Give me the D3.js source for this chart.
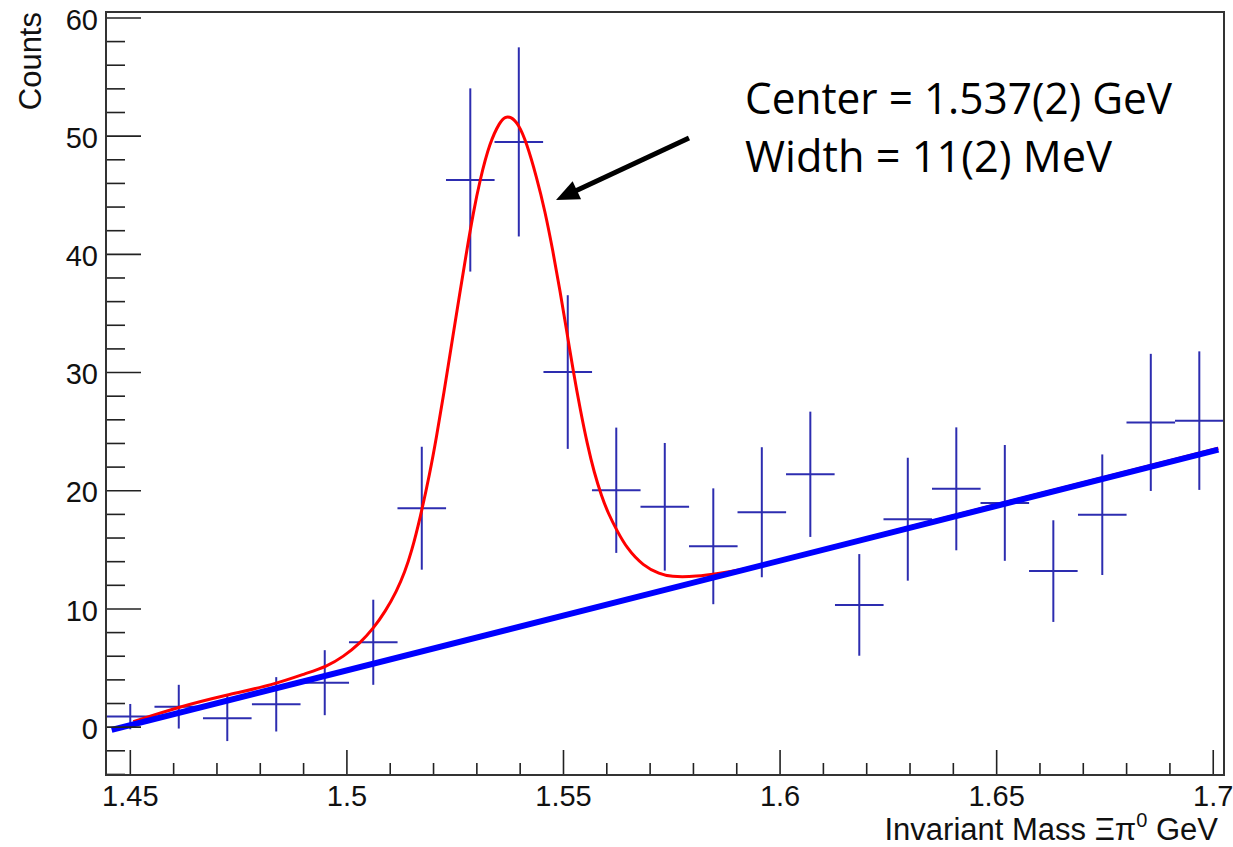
<!DOCTYPE html>
<html lang="en">

<head>
    <meta charset="UTF-8">
    <title>Invariant Mass Xi pi0 - fit</title>
    <script src="https://d3js.org/d3.v7.min.js"></script>
    <style>
        body { margin: 0; background: #fff; }
        svg { display: block; }
        .tick text { font-family: "Liberation Sans", Arial, sans-serif; fill: #111; }
        .tick line { stroke: #222; stroke-width: 1.6; }
    </style>
</head>

<body>
    <div id="chart"></div>

    <script>
        // histogram bins: centres (GeV), counts and errors
        const binCenters = [1.4501, 1.4613, 1.4725, 1.4838, 1.4950, 1.5062, 1.5174, 1.5286, 1.5398, 1.5511, 1.5623, 1.5735,
            1.5847, 1.5959, 1.6071, 1.6184, 1.6296, 1.6408, 1.6520, 1.6632, 1.6745, 1.6857, 1.6969];
        const counts = [0.85, 1.69, 0.71, 1.89, 3.72, 7.14, 18.48, 46.25, 49.47, 30.0, 20.0, 18.6,
            15.26, 18.14, 21.35, 10.3, 17.55, 20.12, 18.93, 13.16, 17.93, 25.74, 25.89];
        const errors = [1.07, 1.85, 1.93, 2.3, 2.75, 3.6, 5.2, 7.75, 8.0, 6.5, 5.3, 5.4,
            4.9, 5.5, 5.3, 4.3, 5.2, 5.2, 4.9, 4.3, 5.1, 5.8, 5.86];
        const binWidth = 0.01122;

        // total fit (red)
        const fitX = [1.4508, 1.4615, 1.4723, 1.4831, 1.4908, 1.4954, 1.4993, 1.5031, 1.5062, 1.5090, 1.5116, 1.5135,
            1.5150, 1.5170, 1.5193, 1.5208, 1.5224, 1.5247, 1.5262, 1.5277, 1.5293, 1.5308, 1.5331, 1.5355, 1.5366,
            1.5380, 1.5397, 1.5416, 1.5439, 1.5458, 1.5477, 1.5493, 1.5508, 1.5524, 1.5540, 1.5556, 1.5572, 1.5589,
            1.5605, 1.5623, 1.5647, 1.5685, 1.5724, 1.5747, 1.5809, 1.5863, 1.5909, 1.5955, 1.6500, 1.7013];
        const fitY = [0.42, 1.69, 2.68, 3.53, 4.52, 5.08, 5.92, 7.05, 8.3, 9.75, 11.45, 13.1,
            14.75, 17.6, 21.5, 24.5, 28.0, 33.3, 36.7, 40.1, 43.5, 46.2, 49.45, 51.2, 51.6,
            51.6, 51.0, 49.4, 46.5, 43.7, 40.2, 36.9, 33.6, 30.0, 26.8, 23.9, 21.5, 19.5,
            18.0, 16.7, 15.1, 13.6, 12.9, 12.68, 12.69, 12.98, 13.26, 13.6, 18.8, 23.55];

        // background fit (blue)
        const bgX = [1.4458, 1.7013];
        const bgY = [-0.28, 23.43];

        const xTicks = [1.45, 1.5, 1.55, 1.6, 1.65, 1.7];
        const xTickLabels = ["1.45", "1.5", "1.55", "1.6", "1.65", "1.7"];
        const xMinorTicks = [1.46, 1.47, 1.48, 1.49, 1.51, 1.52, 1.53, 1.54, 1.56, 1.57, 1.58, 1.59,
            1.61, 1.62, 1.63, 1.64, 1.66, 1.67, 1.68, 1.69];
        const yTicks = [0, 10, 20, 30, 40, 50, 60];
        const yMinorTicks = [-4, -2, 2, 4, 6, 8, 12, 14, 16, 18, 22, 24, 26, 28, 32, 34, 36, 38,
            42, 44, 46, 48, 52, 54, 56, 58];

        const notes = ["Center = 1.537(2) GeV", "Width = 11(2) MeV"];

        const width = 1233, height = 847;
        const frame = { left: 106, right: 1224, top: 12, bottom: 775 };

        const svg = d3.select("#chart").append("svg")
            .attr("width", width)
            .attr("height", height);

        const x = d3.scaleLinear().domain([1.4445, 1.7026]).range([frame.left, frame.right]);
        const y = d3.scaleLinear().domain([-4.09, 60.46]).range([frame.bottom, frame.top]);

        // error-bar crosses
        const bars = svg.append("g")
            .attr("stroke", "#2d2db0")
            .attr("stroke-width", 2);

        binCenters.forEach((c, i) => {
            bars.append("line")
                .attr("x1", x(c - binWidth / 2)).attr("x2", x(c + binWidth / 2))
                .attr("y1", y(counts[i])).attr("y2", y(counts[i]));
            bars.append("line")
                .attr("x1", x(c)).attr("x2", x(c))
                .attr("y1", y(counts[i] - errors[i])).attr("y2", y(counts[i] + errors[i]));
        });

        // fit curves
        const fitLine = d3.line()
            .x(d => x(d[0]))
            .y(d => y(d[1]))
            .curve(d3.curveBasis);

        svg.append("path")
            .datum(fitX.map((v, i) => [v, fitY[i]]))
            .attr("fill", "none")
            .attr("stroke", "#ff0000")
            .attr("stroke-width", 3)
            .attr("stroke-linejoin", "round")
            .attr("d", fitLine);

        svg.append("path")
            .datum(bgX.map((v, i) => [v, bgY[i]]))
            .attr("fill", "none")
            .attr("stroke", "#0000ff")
            .attr("stroke-width", 6)
            .attr("d", d3.line().x(d => x(d[0])).y(d => y(d[1])));

        // axes (ROOT style, ticks pointing inside)
        function cleanAxis(g) {
            g.select(".domain").remove();
        }

        svg.append("g")
            .attr("transform", `translate(${frame.left},0)`)
            .call(d3.axisLeft(y).tickValues(yMinorTicks).tickSize(-19).tickFormat(""))
            .call(cleanAxis);

        svg.append("g")
            .attr("transform", `translate(${frame.left},0)`)
            .call(d3.axisLeft(y).tickValues(yTicks).tickSize(-35).tickPadding(8).tickFormat(d3.format("d")))
            .call(cleanAxis)
            .selectAll("text")
            .attr("font-size", 29)
            .attr("dy", "0.4em");

        svg.append("g")
            .attr("transform", `translate(0,${frame.bottom})`)
            .call(d3.axisBottom(x).tickValues(xMinorTicks).tickSize(-12).tickFormat(""))
            .call(cleanAxis);

        svg.append("g")
            .attr("transform", `translate(0,${frame.bottom})`)
            .call(d3.axisBottom(x).tickValues(xTicks).tickSize(-25).tickPadding(10)
                .tickFormat((d, i) => xTickLabels[i]))
            .call(cleanAxis)
            .selectAll("text")
            .attr("font-size", 29);

        // frame
        svg.append("rect")
            .attr("x", frame.left)
            .attr("y", frame.top)
            .attr("width", frame.right - frame.left)
            .attr("height", frame.bottom - frame.top)
            .attr("fill", "none")
            .attr("stroke", "#333")
            .attr("stroke-width", 2);

        // axis titles
        svg.append("text")
            .attr("transform", `translate(41,12) rotate(-90)`)
            .attr("text-anchor", "end")
            .attr("font-family", "'Liberation Sans', Arial, sans-serif")
            .attr("font-size", 31)
            .attr("fill", "#111")
            .text("Counts");

        const xTitle = svg.append("text")
            .attr("x", 1218)
            .attr("y", 840)
            .attr("text-anchor", "end")
            .attr("font-family", "'Liberation Sans', Arial, sans-serif")
            .attr("font-size", 31)
            .attr("fill", "#111");
        xTitle.append("tspan").text("Invariant Mass \u039E\u03C0");
        xTitle.append("tspan").attr("font-size", 20).attr("dy", -13).text("0");
        xTitle.append("tspan").attr("dy", 13).text(" GeV");

        // annotation: fit results + arrow to the peak
        svg.selectAll(".note")
            .data(notes)
            .enter()
            .append("text")
            .attr("class", "note")
            .attr("x", 745)
            .attr("y", (d, i) => 114 + i * 58)
            .attr("font-family", "'Open Sans', 'Noto Sans', sans-serif")
            .attr("font-size", 44)
            .attr("textLength", (d, i) => i === 0 ? 427 : 367)
            .attr("lengthAdjust", "spacingAndGlyphs")
            .attr("fill", "#000")
            .text(d => d);

        const arrowFrom = [689, 138], arrowTip = [556, 200];
        const dx = arrowTip[0] - arrowFrom[0], dy = arrowTip[1] - arrowFrom[1];
        const len = Math.hypot(dx, dy);
        const ux = dx / len, uy = dy / len;
        const headLen = 23, headHalf = 10;
        const base = [arrowTip[0] - ux * headLen, arrowTip[1] - uy * headLen];

        svg.append("line")
            .attr("x1", arrowFrom[0]).attr("y1", arrowFrom[1])
            .attr("x2", base[0] + ux * 4).attr("y2", base[1] + uy * 4)
            .attr("stroke", "#000")
            .attr("stroke-width", 5);

        svg.append("polygon")
            .attr("points", [
                arrowTip,
                [base[0] - uy * headHalf, base[1] + ux * headHalf],
                [base[0] + uy * headHalf, base[1] - ux * headHalf]
            ].map(p => p.join(",")).join(" "))
            .attr("fill", "#000");
    </script>
</body>

</html>
